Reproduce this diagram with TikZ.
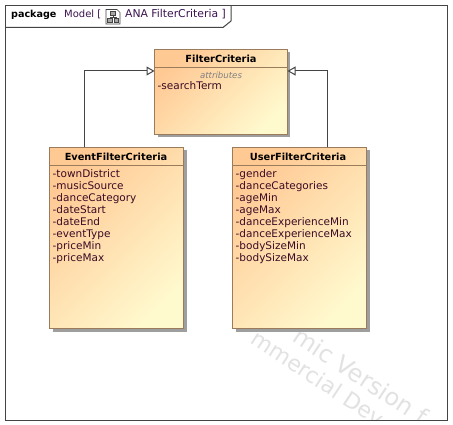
\documentclass[tikz,border=0pt]{standalone}
\usepackage{fontspec}
\setmainfont{DejaVu Sans}
\usetikzlibrary{arrows.meta,calc,shadings}
\definecolor{fillA}{HTML}{FFC994}
\definecolor{fillB}{HTML}{FFF9CE}
\definecolor{edgeC}{HTML}{9A7B5C}
\definecolor{lineC}{HTML}{444444}
\definecolor{attrC}{HTML}{3A0A24}
\definecolor{pkgC}{HTML}{3C1450}
\definecolor{markC}{HTML}{E2E2E2}
\tikzset{
  x=1pt,y=-1pt,
  classbox/.style={draw=edgeC,line width=1pt,top color=fillA,bottom color=fillB,shading angle=45,
    minimum width=133pt,inner sep=0pt,outer sep=0pt,anchor=north west},
  boxshade/.style={fill=black!38,draw=none},
  sepline/.style={draw=edgeC,line width=1pt},
  ctitle/.style={font=\fontsize{9.8}{12}\bfseries\selectfont,text=black,inner sep=0pt,anchor=center},
  attrs/.style={font=\fontsize{10.5}{12}\selectfont,text=attrC,align=left,anchor=north west,inner sep=0pt},
  gener/.style={draw=lineC,line width=1pt,-{Triangle[open,fill=white,length=8pt,width=9pt]}},
  wmark/.style={text=markC,rotate=-33.4,anchor=west,inner sep=0pt},
}
\begin{document}
\begin{tikzpicture}
\useasboundingbox (0,0) rectangle (453,425);
\fill[white] (0,0) rectangle (453,425);
% watermark
\begin{scope}
\clip (6,28) rectangle (447,419);
\node[wmark,font=\fontsize{24}{26}\selectfont] (wm1) at (296,333) {mic Version f};
\node[wmark,font=\fontsize{22}{24}\selectfont] (wm2) at (254,336) {mmercial Dev};
\end{scope}
% frame
\draw[lineC,line width=1pt] (5.5,5.5) rectangle (447.5,420.5);
\draw[lineC,line width=1pt] (5.5,27.5) -- (223,27.5) -- (231,21) -- (231,5.5);
\node[font=\fontsize{9.6}{12}\bfseries\selectfont,anchor=base west,inner sep=0pt] (pk) at (11,18) {package};
\node[font=\fontsize{10}{12}\selectfont,text=pkgC,anchor=base west,inner sep=0pt] (md) at (64,18) {Model [};
\node[font=\fontsize{10.8}{12}\selectfont,text=pkgC,anchor=base west,inner sep=0pt] (an) at (125,18) {ANA FilterCriteria ]};
% diagram icon
\draw[lineC,line width=.6pt,fill=white] (106,9.5) -- (117,9.5) -- (120,12.5) -- (120,24) -- (106,24) -- cycle;
\draw[lineC,line width=.6pt,fill=black!35] (110.5,11.5) rectangle (115.5,15);
\draw[lineC,line width=.6pt,fill=black!35] (107.5,18.5) rectangle (112,22);
\draw[lineC,line width=.6pt,fill=black!35] (114,18.5) rectangle (118.5,22);
\draw[lineC,line width=.5pt] (113,15) -- (113,17) (110,18.5) -- (110,17) -- (116,17) -- (116,18.5);
% shadows
\fill[boxshade] (157.5,52) rectangle (290,137.5);
\fill[boxshade] (52.5,150) rectangle (186.5,331.5);
\fill[boxshade] (235.5,150) rectangle (369.5,331.5);
% classes
\node[classbox,minimum height=85pt] (fc) at (154.5,49.5) {};
\node[classbox,minimum height=181pt,minimum width=134pt] (ev) at (49.5,147.5) {};
\node[classbox,minimum height=181pt,minimum width=134pt] (us) at (232.5,147.5) {};
\draw[sepline] (154.5,67.5) -- (287.5,67.5);
\draw[sepline] (49.5,165.5) -- (183.5,165.5);
\draw[sepline] (232.5,165.5) -- (366.5,165.5);
\node[ctitle] (fct) at (221,58.5) {FilterCriteria};
\node[ctitle] (evt) at (116,156.5) {EventFilterCriteria};
\node[ctitle] (ust) at (298,156.5) {UserFilterCriteria};
\node[font=\fontsize{8.6}{9}\itshape\selectfont,text=black!50,inner sep=0pt] (fca) at (221,75.5) {attributes};
\node[attrs] (fcl) at (157.5,81.5) {-searchTerm};
\node[attrs] (evl) at (52.5,169.5) {-townDistrict\\-musicSource\\-danceCategory\\-dateStart\\-dateEnd\\-eventType\\-priceMin\\-priceMax};
\node[attrs] (usl) at (235.5,169.5) {-gender\\-danceCategories\\-ageMin\\-ageMax\\-danceExperienceMin\\-danceExperienceMax\\-bodySizeMin\\-bodySizeMax};
% generalizations
\coordinate (evup) at ($(ev.north west)+(35,0)$);
\coordinate (usup) at ($(us.north west)+(94.5,0)$);
\coordinate (fcl1) at ($(fc.north west)+(0,21.5)$);
\coordinate (fcr1) at ($(fc.north east)+(0,21.5)$);
\draw[gener] (evup) |- (fcl1);
\draw[gener] (usup) |- (fcr1);
\end{tikzpicture}
\end{document}
